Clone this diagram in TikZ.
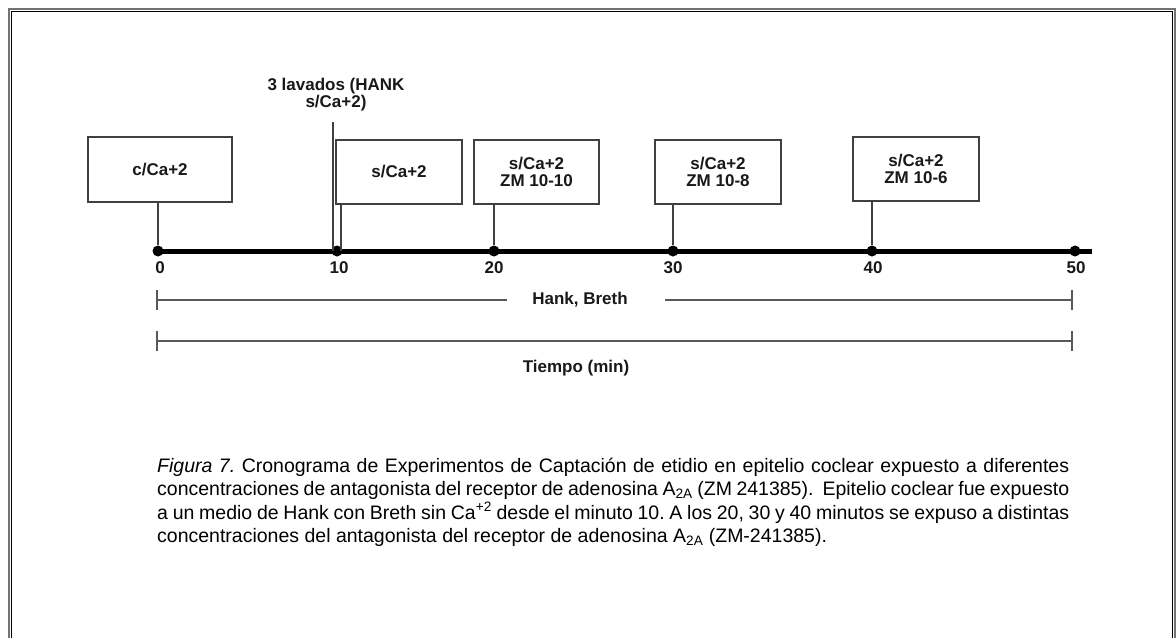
\documentclass[tikz,border=0pt]{standalone}
\usepackage{fontspec}
\setmainfont{Liberation Sans}
\begin{document}
\frenchspacing
\begin{tikzpicture}[x=1pt,y=-1pt,
  lbl/.style={font=\fontsize{17}{17}\selectfont\bfseries, text=black!90, inner sep=0pt, align=center},
  box/.style={draw=black!75, line width=1.2pt, fill=white, inner sep=0pt,
              font=\fontsize{17}{17}\selectfont\bfseries, text=black!90, align=center},
  conn/.style={draw=black!75, line width=1.1pt},
  brace/.style={draw=black!65, line width=1.6pt},
  dot/.style={circle, fill=black, inner sep=0pt, minimum size=11pt},
  capline/.style={font=\fontsize{19.5}{23.6}\selectfont, anchor=base west, inner sep=0pt}]
\useasboundingbox (0,0) rectangle (1176,638);

% double frame, open at the bottom
\draw[black!55, line width=1.2pt] (9,638) -- (9,9) -- (1175,9) -- (1175,638);
\draw[black, line width=1.2pt] (11.5,638) -- (11.5,11.5) -- (1172.5,11.5) -- (1172.5,638);

% time axis with minute marks
\coordinate (tstart) at (158,251);
\coordinate (tend) at (1092,251);
\draw[line width=5pt] (tstart) -- (tend);
\node[dot] (d0)  at (158,251) {};
\node[dot] (d10) at (337,251) {};
\node[dot] (d20) at (494,251) {};
\node[dot] (d30) at (673,251) {};
\node[dot] (d40) at (872,251) {};
\node[dot] (d50) at (1075,251) {};

\node[lbl] (n0)  at (160,268) {0};
\node[lbl] (n10) at (339,268) {10};
\node[lbl] (n20) at (494,268) {20};
\node[lbl] (n30) at (673,268) {30};
\node[lbl] (n40) at (873,268) {40};
\node[lbl] (n50) at (1076,268) {50};

% medium boxes
\node[box, minimum width=144pt, minimum height=65pt] (b0)  at (160,169.5) {c/Ca+2};
\node[box, minimum width=126pt, minimum height=64pt] (b10) at (399,172) {s/Ca+2};
\node[box, minimum width=125pt, minimum height=64pt] (b20) at (536.5,172) {s/Ca+2\\ZM 10-10};
\node[box, minimum width=126pt, minimum height=64pt] (b30) at (718,172) {s/Ca+2\\ZM 10-8};
\node[box, minimum width=126pt, minimum height=64pt] (b40) at (916,169) {s/Ca+2\\ZM 10-6};

\coordinate (c10) at (341,251);
\draw[conn] (b0.south -| d0) -- (d0);
\draw[conn] (b10.south -| c10) -- (c10);
\draw[conn] (b20.south -| d20) -- (d20);
\draw[conn] (b30.south -| d30) -- (d30);
\draw[conn] (b40.south -| d40) -- (d40);

% washing step at minute 10
\node[lbl] (lav) at (336,95) {3 lavados (HANK\\s/Ca+2)};
\coordinate (lavtop) at (333,122);
\draw[conn] (lavtop) -- (lavtop |- d10);

% Hank, Breth span
\coordinate (h0) at (157,300);
\coordinate (h1) at (1072,300);
\node[lbl] (hank) at (580,300) {Hank, Breth};
\coordinate (hl) at (507,300);
\coordinate (hr) at (665,300);
\draw[brace] (h0) -- (hl);
\draw[brace] (hr) -- (h1);
\draw[brace] ([yshift=-10pt]h0) -- ([yshift=10pt]h0);
\draw[brace] ([yshift=-10pt]h1) -- ([yshift=10pt]h1);

% total time span
\coordinate (t0) at (157,341);
\coordinate (t1) at (1072,341);
\draw[brace] (t0) -- (t1);
\draw[brace] ([yshift=-10pt]t0) -- ([yshift=10pt]t0);
\draw[brace] ([yshift=-10pt]t1) -- ([yshift=10pt]t1);
\node[lbl] (tiempo) at (576,368) {Tiempo (min)};

% caption
\node[capline] (cap1) at (157,472) {\makebox[912pt][s]{\textit{Figura 7.} Cronograma de Experimentos de Captación de etidio en epitelio coclear expuesto a diferentes}};
\node[capline] (cap2) at (157,495.6) {\makebox[912pt][s]{concentraciones de antagonista del receptor de adenosina A\textsubscript{2A} (ZM 241385).\ \ Epitelio coclear fue expuesto}};
\node[capline] (cap3) at (157,519.2) {\makebox[912pt][s]{a un medio de Hank con Breth sin Ca\textsuperscript{+2} desde el minuto 10. A los 20, 30 y 40 minutos se expuso a distintas}};
\node[capline] (cap4) at (157,542.8) {concentraciones del antagonista del receptor de adenosina A\textsubscript{2A} (ZM-241385).};
\end{tikzpicture}
\end{document}
